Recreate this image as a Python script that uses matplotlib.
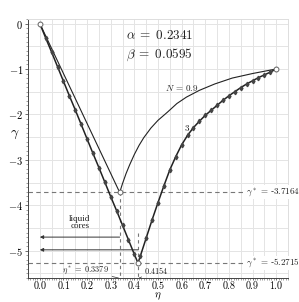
import matplotlib
matplotlib.use("Agg")
import matplotlib.pyplot as plt
from matplotlib.ticker import MultipleLocator

plt.rcParams['mathtext.fontset'] = 'cm'
plt.rcParams['font.family'] = ['DejaVu Serif']

# ---- data ----
alpha = 0.2341
beta = 0.0595
eta_star_09 = 0.3379
gam_star_09 = -3.7164
eta_star_3 = 0.4154
gam_star_3 = -5.2715

# N = 0.9 curve
eta_n09 = [0.0, 0.3379, 0.35, 0.365, 0.38, 0.40, 0.42, 0.44, 0.47, 0.50, 0.54,
           0.58, 0.62, 0.675, 0.74, 0.814, 0.9, 0.95, 1.0]
gam_n09 = [0.0, -3.7164, -3.52, -3.30, -3.11, -2.88, -2.68, -2.51, -2.30, -2.13, -1.95,
           -1.76, -1.62, -1.47, -1.33, -1.20, -1.10, -1.05, -1.0]

# N = 3 curve
eta_n3 = [0.0, 0.025, 0.05, 0.075, 0.1, 0.125, 0.15, 0.175, 0.2, 0.225, 0.25,
          0.275, 0.3, 0.325, 0.35, 0.375, 0.4, 0.4154, 0.425, 0.45, 0.475, 0.5,
          0.525, 0.55, 0.575, 0.6, 0.625, 0.65, 0.675, 0.7, 0.725, 0.75, 0.775,
          0.8, 0.825, 0.85, 0.875, 0.9, 0.925, 0.95, 0.975, 1.0]
gam_n3 = [0.0, -0.32, -0.63, -0.95, -1.27, -1.59, -1.90, -2.22, -2.54, -2.86, -3.17,
          -3.49, -3.81, -4.12, -4.44, -4.76, -5.08, -5.2715, -5.12, -4.72, -4.32, -3.94,
          -3.57, -3.22, -2.93, -2.67, -2.46, -2.29, -2.15, -2.02, -1.91, -1.80, -1.69,
          -1.59, -1.50, -1.41, -1.33, -1.26, -1.19, -1.13, -1.07, -1.0]

x_ticks = [0.0, 0.1, 0.2, 0.3, 0.4, 0.5, 0.6, 0.7, 0.8, 0.9, 1.0]
y_ticks = [0, -1, -2, -3, -4, -5]

fig = plt.figure(figsize=(2.99, 3.02), dpi=100)
ax = fig.add_axes([28/299, 1-278/302, 260/299, 259/302])
ax.set_xlim(-0.05, 1.05)
ax.set_ylim(-5.6, 0.1)

# grid
ax.set_xticks(x_ticks)
ax.xaxis.set_minor_locator(MultipleLocator(0.01))
ax.set_yticks(y_ticks)
ax.yaxis.set_minor_locator(MultipleLocator(0.1))
for gx in [i * 0.05 for i in range(-1, 22)]:
    ax.axvline(gx, color='#e4e4e4', lw=0.7, zorder=0)
for gy in [i * 0.5 for i in range(-12, 1)]:
    ax.axhline(gy, color='#e4e4e4', lw=0.7, zorder=0)

ax.set_xticklabels([r'$%.1f$' % v for v in x_ticks], fontsize=7.2)
ax.set_yticklabels([r'$%d$' % v for v in y_ticks], fontsize=7.5)
ax.tick_params(which='major', direction='out', length=2, width=0.6, color='#555555', pad=1.5)
ax.tick_params(axis='x', which='major', length=1.5, pad=-0.5)
ax.tick_params(which='minor', direction='out', length=1.2, width=0.4, color='#555555')

for s in ['top', 'right']:
    ax.spines[s].set_color('#dddddd')
    ax.spines[s].set_linewidth(0.7)
for s in ['left', 'bottom']:
    ax.spines[s].set_color('#444444')
    ax.spines[s].set_linewidth(0.7)

# dashed reference lines
dash = (0, (4, 3))
ax.plot([-0.05, 0.905], [gam_star_09, gam_star_09], ls=dash, color='#777777', lw=0.8, zorder=1)
ax.plot([-0.05, 0.905], [gam_star_3, gam_star_3], ls=dash, color='#777777', lw=0.8, zorder=1)
ax.plot([eta_star_09, eta_star_09], [gam_star_09, -5.6], ls=(0, (3, 3)), color='#777777', lw=0.8, zorder=1)
ax.plot([eta_star_3, eta_star_3], [-4.6, -5.6], ls=(0, (3, 3)), color='#777777', lw=0.8, zorder=1)

# curves
ax.plot(eta_n09, gam_n09, color='#222222', lw=0.8, zorder=3)
ax.plot(eta_n3, gam_n3, color='#222222', lw=1.1, marker='d', ms=2.3,
        mfc='#444444', mec='#444444', zorder=4)

# open circles
ax.plot([0.0, 1.0, eta_star_09, eta_star_3], [0.0, -1.0, gam_star_09, gam_star_3],
        ls='none', marker='o', ms=3.5, mfc='white', mec='#666666', mew=0.7, zorder=5)

# texts
ax.text(0.505, -0.26, r'$\alpha\;=\;0.2341$', fontsize=9.5, ha='center', va='center', color='#222222')
ax.text(0.505, -0.68, r'$\beta\;=\;0.0595$', fontsize=9.5, ha='center', va='center', color='#222222')
ax.text(0.60, -1.42, r'$N\,=\,0.9$', fontsize=6.5, ha='center', va='center', color='#222222')
ax.text(0.625, -2.30, r'$3$', fontsize=6.5, ha='center', va='center', color='#222222')

ax.text(0.985, gam_star_09, r'$\gamma^*\,=\,$-$3.7164$', fontsize=6.5, ha='center', va='center',
        color='#222222', bbox=dict(facecolor='white', edgecolor='none', pad=0.5), zorder=6,
        clip_on=False)
ax.text(0.985, gam_star_3, r'$\gamma^*\,=\,$-$5.2715$', fontsize=6.5, ha='center', va='center',
        color='#222222', bbox=dict(facecolor='white', edgecolor='none', pad=0.5), zorder=6,
        clip_on=False)

# liquid cores arrows
ax.text(0.17, -4.38, 'liquid\ncores', fontsize=6.5, ha='center', va='center',
        linespacing=0.95, family='Liberation Serif', color='#222222')
ax.annotate('', xy=(0.0, -4.70), xytext=(eta_star_09, -4.70),
            arrowprops=dict(arrowstyle='-|>', color='#333333', lw=0.7,
                            mutation_scale=5, shrinkA=0, shrinkB=0))
ax.annotate('', xy=(0.0, -4.98), xytext=(eta_star_3, -4.98),
            arrowprops=dict(arrowstyle='-|>', color='#333333', lw=0.7,
                            mutation_scale=5, shrinkA=0, shrinkB=0))

# bottom annotations
ax.annotate(r'$\eta^*\,=\,0.3379$', xy=(eta_star_09 - 0.005, -5.6), xytext=(0.195, -5.43),
            fontsize=6, ha='center', va='center', color='#222222',
            arrowprops=dict(arrowstyle='-', color='#333333', lw=0.5, shrinkA=12, shrinkB=0))
ax.annotate(r'$0.4154$', xy=(eta_star_3 + 0.005, -5.6), xytext=(0.495, -5.43),
            fontsize=6, ha='center', va='center', color='#222222',
            arrowprops=dict(arrowstyle='-', color='#333333', lw=0.5, shrinkA=9, shrinkB=0))

ax.set_xlabel(r'$\eta$', fontsize=8)
ax.xaxis.label.set_va('bottom')
ax.xaxis.set_label_coords(0.5, -23.5/259)
ax.set_ylabel(r'$\gamma$', fontsize=10, rotation=0)
ax.yaxis.set_label_coords(-0.05, 0.53)

fig.savefig('out.png', dpi=100)
